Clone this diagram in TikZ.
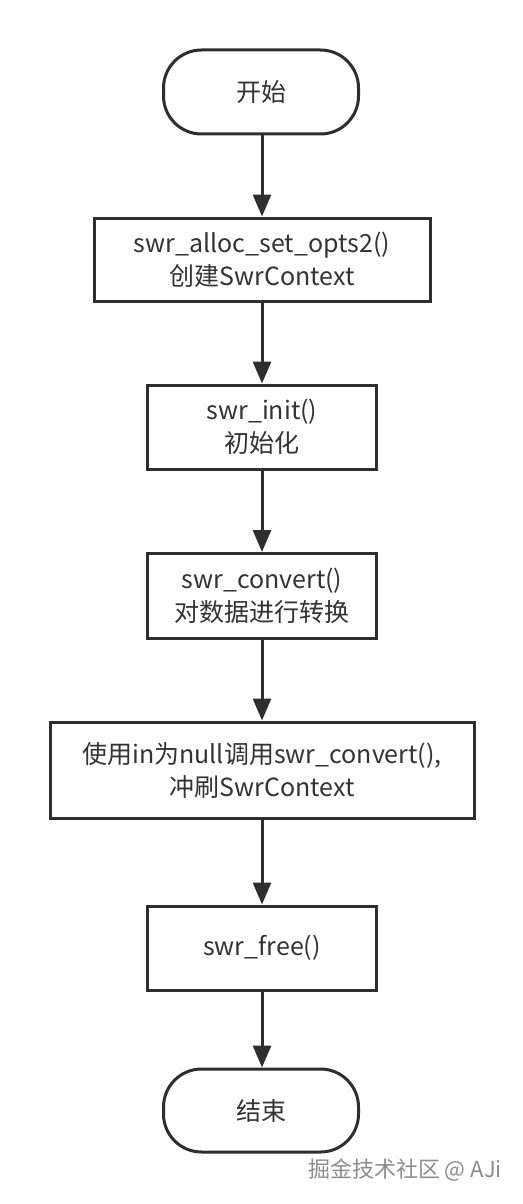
\documentclass[tikz,border=0pt]{standalone}
\usepackage{fontspec}
\setmainfont{Noto Sans CJK SC}
\usetikzlibrary{arrows.meta}
\definecolor{ln}{HTML}{2E2E2E}
\definecolor{tx}{HTML}{333333}
\tikzset{
  base/.style={draw=ln, line width=1.5pt, fill=white, inner sep=0pt, align=center, text=tx,
    font=\fontsize{12.5pt}{16.5pt}\selectfont},
  procbox/.style={base},
  term/.style={base, rounded corners=19pt},
  flow/.style={draw=ln, line width=1.5pt, -{Triangle[length=11pt,width=9pt]}},
}
\begin{document}
\begin{tikzpicture}[x=0.5pt,y=-0.5pt]
\useasboundingbox (0,0) rectangle (523,1204);
\node[term, minimum width=97.5pt, minimum height=42pt] (start) at (261,92) {开始};
\node[procbox, minimum width=168pt, minimum height=41.5pt] (b1) at (262,259.5) {swr\_alloc\_set\_opts2()\\创建SwrContext};
\node[procbox, minimum width=114.5pt, minimum height=42pt] (b2) at (262,427) {swr\_init()\\初始化};
\node[procbox, minimum width=114.5pt, minimum height=42.5pt] (b3) at (262,596) {swr\_convert()\\对数据进行转换};
\node[procbox, minimum width=212pt, minimum height=48pt] (b4) at (262,770) {使用in为null调用swr\_convert(),\\冲刷SwrContext};
\node[procbox, minimum width=114.5pt, minimum height=42pt] (b5) at (262,948) {swr\_free()};
\node[term, minimum width=97.5pt, minimum height=41.5pt] (end) at (261,1110.5) {结束};
\draw[flow] (start.south -| b1.north) -- (b1.north);
\draw[flow] (b1) -- (b2);
\draw[flow] (b2) -- (b3);
\draw[flow] (b3) -- (b4);
\draw[flow] (b4) -- (b5);
\draw[flow] (b5.south) -- (b5.south |- end.north);
\node[text=white!55!black, font=\fontsize{11pt}{13pt}\selectfont, anchor=center] (wm) at (405,1170) {掘金技术社区 @ AJi};
\end{tikzpicture}
\end{document}
